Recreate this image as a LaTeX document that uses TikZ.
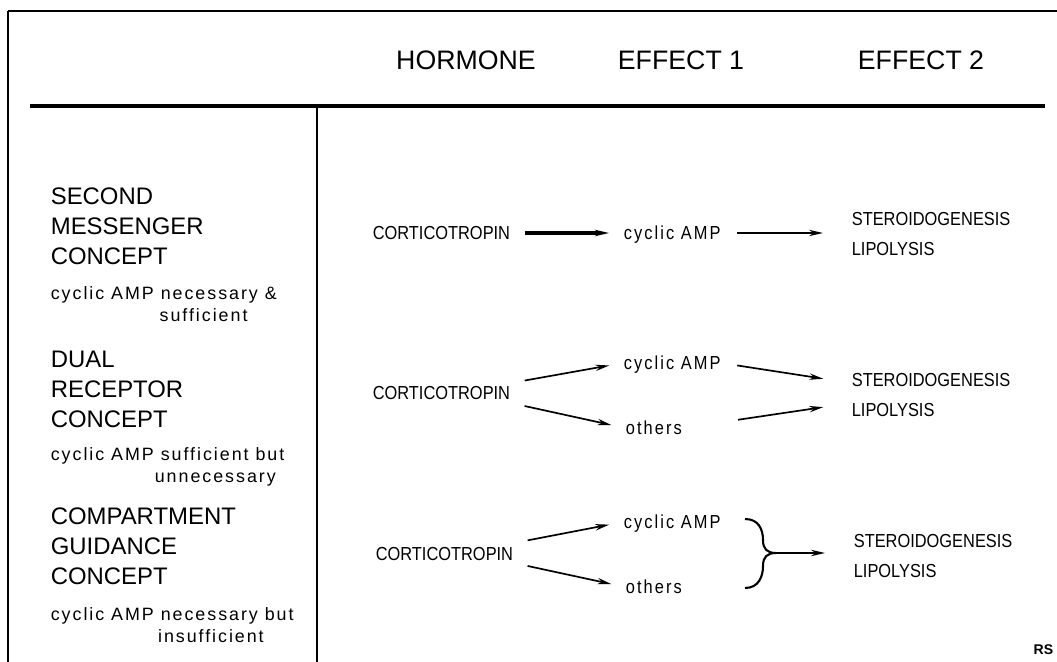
\documentclass[tikz,border=0pt]{standalone}
\usepackage{fontspec}
\setmainfont{Liberation Sans}
\newfontfamily\spacedfont[LetterSpace=11]{Liberation Sans}
\newfontfamily\narrowfont[FakeStretch=0.87]{Liberation Sans}
\newfontfamily\narrowspacedfont[FakeStretch=0.87,LetterSpace=11]{Liberation Sans}
\usetikzlibrary{arrows.meta,positioning}

\newcommand{\headsize}{\fontsize{19}{23}\selectfont}
\newcommand{\conceptsize}{\fontsize{17}{21.3}\selectfont}
\newcommand{\notesize}{\spacedfont\fontsize{12.7}{15.6}\selectfont}
\newcommand{\labelsize}{\narrowfont\fontsize{13.4}{21.3}\selectfont}
\newcommand{\lowsize}{\narrowspacedfont\fontsize{13.4}{14}\selectfont}

\begin{document}
\begin{tikzpicture}[
  x=0.025cm,y=-0.025cm,
  >={Stealth[length=3.5mm,width=1.6mm]},
  line width=1.2pt,
  every node/.style={inner sep=0pt},
  head/.style={font=\headsize},
  concept/.style={anchor=north west,align=left,font=\conceptsize},
  note/.style={anchor=north west,align=left,font=\notesize},
  item/.style={anchor=west,font=\labelsize},
  second/.style={anchor=west,font=\lowsize},
  effect/.style={anchor=west,align=left,font=\labelsize},
  flow/.style={->,shorten <=0.35cm,shorten >=0.35cm},
  toeffect/.style={->,shorten >=0.7cm}
]%
  \useasboundingbox (0,0) rectangle (1057,662);

  % frame
  \draw[line width=2pt]   (8,11) -- (1057,11);
  \draw[line width=1.2pt] (8,11) -- (8,662);
  \draw[line width=2.5pt] (30,106) -- (1045,106);
  \draw[line width=1.2pt] (317,106) -- (317,662);

  % column heads
  \node[head] (hHormone) at (466,60) {HORMONE};
  \node[head] (hEffA)    at (681,60) {EFFECT 1};
  \node[head] (hEffB)    at (921,60) {EFFECT 2};

  % concepts
  \node[concept] (cSecond) at (50,187) {SECOND\\MESSENGER\\CONCEPT};
  \node[note]    (nSecond) at (50,286) {cyclic AMP necessary \&\\\hspace*{2.72cm}sufficient};

  \node[concept] (cDual) at (50,350) {DUAL\\RECEPTOR\\CONCEPT};
  \node[note]    (nDual) at (50,447) {cyclic AMP sufficient  but\\\hspace*{2.6cm}unnecessary};

  \node[concept] (cComp) at (50,507) {COMPARTMENT\\GUIDANCE\\CONCEPT};
  \node[note]    (nComp) at (50,607) {cyclic AMP necessary but\\\hspace*{2.68cm}insufficient};

  % row 1
  \node[item]   (hA)   at (372,233) {CORTICOTROPIN};
  \node[second] (ampA) at (623,235) {cyclic AMP};
  \node[effect] (stA)  at (851,234) {STEROIDOGENESIS\\LIPOLYSIS};

  \draw[flow,line width=2.2pt] (hA.east) -- (hA.east -| ampA.west);
  \draw[toeffect,shorten <=0.4cm] (hA.east -| ampA.east) -- (hA.east -| stA.west);

  % row 2
  \node[item]   (hB)   at (372,393) {CORTICOTROPIN};
  \node[second] (ampB) at (623,365) {cyclic AMP};
  \node[second] (othB) at (625,428) {others};
  \node[effect] (stB)  at (851,395) {STEROIDOGENESIS\\LIPOLYSIS};

  \draw[flow] ([yshift=0.25cm]hB.east)  -- ([yshift=0.05cm]ampB.west);
  \draw[flow] ([yshift=-0.25cm]hB.east) -- (othB.west);
  \draw[toeffect,shorten <=0.4cm] ([yshift=0.05cm]ampB.east) -- ([yshift=0.3cm]stB.west);
  \draw[toeffect,shorten <=1.4cm] (othB.east) -- ([yshift=-0.2cm]stB.west);

  % row 3
  \node[item]   (hC)   at (375,554) {CORTICOTROPIN};
  \node[second] (ampC) at (623,524) {cyclic AMP};
  \node[second] (othC) at (625,587) {others};
  \node[effect] (stC)  at (853,556) {STEROIDOGENESIS\\LIPOLYSIS};

  \draw[flow] ([yshift=0.275cm]hC.east)  -- ([yshift=0.05cm]ampC.west);
  \draw[flow] ([yshift=-0.225cm]hC.east) -- (othC.west);

  \draw[line width=1.5pt]
        (745,519) .. controls (759,519) and (763,530) .. (763,540)
        .. controls (763,549) and (767,553) .. (776,553)
        .. controls (767,553) and (763,557) .. (763,566)
        .. controls (763,576) and (759,588) .. (745,588);
  \coordinate (brC) at (776,553);
  \draw[toeffect] (brC) -- (brC -| stC.west);

  \node[anchor=east,font=\bfseries\fontsize{10}{12}\selectfont] (mark) at (1054,650) {RS};
\end{tikzpicture}
\end{document}
